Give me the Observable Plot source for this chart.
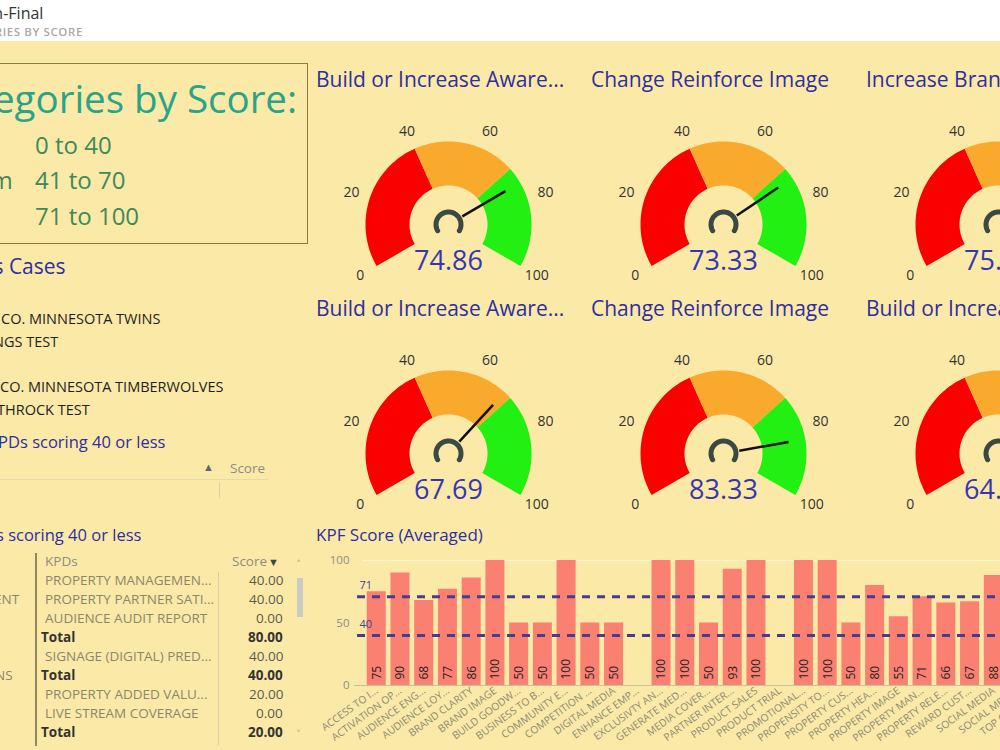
<!DOCTYPE html>
<html><head><meta charset="utf-8">
<script src="https://cdn.jsdelivr.net/npm/d3@7"></script>
<script src="https://cdn.jsdelivr.net/npm/@observablehq/plot@0.6"></script>
<style>
html,body{margin:0;padding:0}
body{width:1000px;height:750px;overflow:hidden;position:relative;background:#fbe9a7;font-family:"Segoe UI","Open Sans","Noto Sans",sans-serif}
.t{position:absolute;white-space:nowrap;line-height:1}
.p{position:absolute}
.p svg{max-width:none;background:transparent}
</style></head><body>
<script>
// ---------------- DATA ----------------
const gaugeTitles = ["Build or Increase Aware...", "Change Reinforce Image", "Increase Brand Awareness",
                     "Build or Increase Aware...", "Change Reinforce Image", "Build or Increase Aware..."];
const gaugeScores = [74.86, 73.33, 75.56, 67.69, 83.33, 64.29];
const gaugeTicks = [0, 20, 40, 60, 80, 100];
const bandFrom = [0, 40, 70];
const bandTo = [40, 70, 100];

const kpfCategories = ["ACCESS TO I...", "ACTIVATION OP...", "AUDIENCE ENG...", "AUDIENCE LOY...", "BRAND CLARITY",
  "BRAND IMAGE", "BUILD GOODW...", "BUSINESS TO B...", "COMMUNITY E...", "COMPETITION ...", "DIGITAL MEDIA",
  "ENHANCE EMP...", "EXCLUSIVTY AN...", "GENERATE MED...", "MEDIA COVER...", "PARTNER INTER...", "PRODUCT SALES",
  "PRODUCT TRIAL", "PROMOTIONAL...", "PROPENSITY TO...", "PROPERTY CUS...", "PROPERTY HEA...", "PROPERTY IMAGE",
  "PROPERTY MAN...", "PROPERTY RELE...", "REWARD CUST...", "SOCIAL MEDIA", "SOCIAL MEDI...", "TOP OF MIND..."];
const kpfScores = [75, 90, 68, 77, 86, 100, 50, 50, 100, 50, 50, null, 100, 100, 50, 93, 100, null,
  100, 100, 50, 80, 55, 71, 66, 67, 88, 75, 60];
const kpfThresholds = [71, 40];
const kpfYTicks = [0, 50, 100];

const scoreBandNames = ["Low", "Medium", "High"];
const scoreBandRanges = ["0 to 40", "41 to 70", "71 to 100"];

const caseLines = ["CO. MINNESOTA TWINS", "NGS TEST", "", "CO. MINNESOTA TIMBERWOLVES", "THROCK TEST"];

const kpdGroups = ["", "ENT", "", "", "", "NS", "", "", ""];
const kpdNames = ["PROPERTY MANAGEMEN...", "PROPERTY PARTNER SATI...", "AUDIENCE AUDIT REPORT", "Total",
  "SIGNAGE (DIGITAL) PRED...", "Total", "PROPERTY ADDED VALU...", "LIVE STREAM COVERAGE", "Total"];
const kpdScores = [40, 40, 0, 80, 40, 40, 20, 0, 20];

// ---------------- STYLE ----------------
const FONT = '"Segoe UI","Open Sans","Noto Sans",sans-serif';
const BLUE = "#2e2ea2";
const bandColors = ["#fa0000", "#f9aa2c", "#22f012"];

// ---------------- HELPERS ----------------
function txt(s, x, y, o = {}) {
  const d = document.createElement("div");
  d.className = "t";
  d.textContent = s;
  const size = o.size || 14;
  d.style.fontSize = size + "px";
  d.style.color = o.color || "#222";
  if (o.weight) d.style.fontWeight = o.weight;
  if (o.ls) d.style.letterSpacing = o.ls;
  document.body.appendChild(d);
  const w = d.offsetWidth;
  d.style.left = (o.anchor === "end" ? x - w : x) + "px";
  d.style.top = (y - 0.56 * size) + "px";
  return d;
}
function box(x, y, w, h, css) {
  const d = document.createElement("div");
  d.style.cssText = `position:absolute;left:${x}px;top:${y}px;width:${w}px;height:${h}px;box-sizing:border-box;${css}`;
  document.body.appendChild(d);
  return d;
}
function place(el, x, y) {
  const d = document.createElement("div");
  d.className = "p";
  d.style.left = x + "px"; d.style.top = y + "px";
  d.appendChild(el);
  document.body.appendChild(d);
}

// ---------------- HEADER ----------------
box(0, 0, 1000, 41, "background:#fff");
txt("KPF Presentation-Final", 43, 14, {size: 16, color: "#333", anchor: "end"});
txt("KPF CATEGORIES BY SCORE", 83, 32, {size: 11.5, color: "#a8a8a8", anchor: "end", weight: 600, ls: "0.6px"});

// ---------------- LEFT PANEL ----------------
box(-10, 63, 318, 181, "border:1.5px solid #857f42");
txt("KPF Categories by Score:", 297, 101, {size: 38.5, color: "#28a48a", anchor: "end"});
{
  const probe = txt(scoreBandNames[1], 0, -100, {size: 24});
  const w = probe.offsetWidth; probe.remove();
  scoreBandNames.forEach((s, i) => txt(s, 13 - w, 146 + i * 35.5, {size: 24, color: "#3e8a5b"}));
  scoreBandRanges.forEach((s, i) => txt(s, 35, 146 + i * 35.5, {size: 24, color: "#3e8a5b"}));
}
txt("Business Cases", 66, 268, {size: 21, color: BLUE, anchor: "end"});
const caseEnds = [160, 58, 0, 223, 90];
caseLines.forEach((s, i) => { if (s) txt(s, caseEnds[i], 320 + i * 22.8, {size: 14.5, color: "#1e1e1e", anchor: "end"}); });
txt("KPDs scoring 40 or less", 165, 443, {size: 16.5, color: BLUE, anchor: "end"});
txt("▲", 203, 467, {size: 11, color: "#666"});
txt("Score", 230, 470, {size: 13.5, color: "#8c8c84"});
box(0, 479, 268, 1, "background:#e3d8ae");
box(219, 482, 1, 16, "background:#d8cfaa");

txt("KPDs scoring 40 or less", 141, 536, {size: 16.5, color: BLUE, anchor: "end"});
txt("KPDs", 45, 563, {size: 13.5, color: "#8c8c84"});
txt("Score", 267, 563, {size: 13.5, color: "#8c8c84", anchor: "end"});
txt("▼", 268, 562, {size: 11, color: "#444"});
box(35, 553, 1.5, 193, "background:#8f8a5e");
box(218, 572, 1, 173, "background:#d8cfaa");
kpdNames.forEach((s, i) => {
  const y = 582 + i * 19;
  const tot = s === "Total";
  if (kpdGroups[i]) txt(kpdGroups[i], 19 - (kpdGroups[i] === "NS" ? 6 : 0), y, {size: 13.5, color: "#8b876c", anchor: "end"});
  txt(s, tot ? 41 : 45, y, {size: 13.5, color: tot ? "#333" : "#8b876c", weight: tot ? 700 : 400});
  txt(kpdScores[i].toFixed(2), 283, y, {size: 13.5, color: tot ? "#333" : "#5c5a4e", weight: tot ? 700 : 400, anchor: "end"});
});
txt("˄", 297, 564, {size: 11, color: "#888"});
box(297, 578, 6, 39, "background:#cbcbc6");
txt("˅", 297, 734, {size: 11, color: "#888"});

// ---------------- GAUGES ----------------
const rad = v => (v - 50) * 2.4 * Math.PI / 180;
const polar = (v, r) => ({x: r * Math.sin(rad(v)), y: r * Math.cos(rad(v))});
function arcPts(a, b, r0, r1) {
  const n = 48, pts = [];
  for (let i = 0; i <= n; i++) pts.push(polar(a + (b - a) * i / n, r1));
  for (let i = n; i >= 0; i--) pts.push(polar(a + (b - a) * i / n, r0));
  return pts;
}
function gauge(score) {
  const marks = bandFrom.map((a, i) =>
    Plot.line(arcPts(a, bandTo[i], 39, 83), {x: "x", y: "y", fill: bandColors[i], stroke: "none", curve: "linear-closed"}));
  const hub = d3.range(0, 101, 2).map(v => polar(v, 12.5));
  marks.push(Plot.line(hub, {x: "x", y: "y", stroke: "#3b4843", strokeWidth: 5}));
  marks.push(Plot.link([score], {
    x1: v => polar(v, 16).x, y1: v => polar(v, 16).y,
    x2: v => polar(v, 66).x, y2: v => polar(v, 66).y,
    stroke: "#111", strokeWidth: 2.5}));
  marks.push(Plot.text(gaugeTicks, {x: t => polar(t, 102).x, y: t => polar(t, 102).y, text: t => String(t), fontSize: 14, fill: "#333"}));
  marks.push(Plot.text([score], {x: 0, y: -37, text: v => v.toFixed(2), fontSize: 27, fill: "#3636b4"}));
  return Plot.plot({
    width: 280, height: 240, margin: 0,
    x: {domain: [-140, 140], axis: null},
    y: {domain: [-105, 135], axis: null},
    style: {background: "transparent", fontFamily: FONT, overflow: "visible"},
    marks
  });
}
const colX = [448, 723, 998], rowY = [224, 453];
gaugeScores.forEach((s, i) => {
  const c = i % 3, r = Math.floor(i / 3);
  txt(gaugeTitles[i], colX[c] - 132, rowY[r] - 143, {size: 21, color: BLUE});
  place(gauge(s), colX[c] - 140, rowY[r] - 135);
});

// ---------------- BAR CHART ----------------
txt("KPF Score (Averaged)", 316, 536, {size: 17, color: BLUE});
const kpf = kpfCategories.map((c, i) => ({cat: c, score: kpfScores[i]}));
const bar = Plot.plot({
  width: 760, height: 200, marginLeft: 52, marginRight: 15, marginTop: 10, marginBottom: 65,
  x: {domain: kpfCategories, padding: 0.2, round: false, label: null},
  y: {domain: [0, 100], label: null},
  style: {background: "transparent", fontFamily: FONT, overflow: "visible"},
  marks: [
    Plot.ruleY([100], {stroke: "#fff3cc", strokeWidth: 1.5}),
    Plot.barY(kpf.filter(d => d.score != null), {x: "cat", y: "score", fill: "#fa8072"}),
    Plot.ruleY([0], {stroke: "#c9c2a2", insetLeft: -8}),
    Plot.ruleY(kpfThresholds, {stroke: "#4a3c8c", strokeWidth: 3, strokeDasharray: "8,7", insetLeft: -5}),
    Plot.text(kpfThresholds, {y: d => d, text: d => String(d), frameAnchor: "left", textAnchor: "start", dx: -3, dy: -11, fontSize: 11, fill: "#4a3c8c"}),
    Plot.text(kpf.filter(d => d.score != null), {x: "cat", y: 0, text: d => String(d.score), rotate: -90, textAnchor: "start", dy: -6, fontSize: 12, fill: "#222"}),
    Plot.axisY({ticks: kpfYTicks, tickSize: 0, tickPadding: 13, fontSize: 11.5, color: "#8d8d88", label: null}),
    Plot.axisX({tickSize: 0, tickRotate: -36, tickPadding: 4, fontSize: 10.3, color: "#8e8a72", label: null})
  ]
});
place(bar, 310, 550);
</script>
</body></html>
